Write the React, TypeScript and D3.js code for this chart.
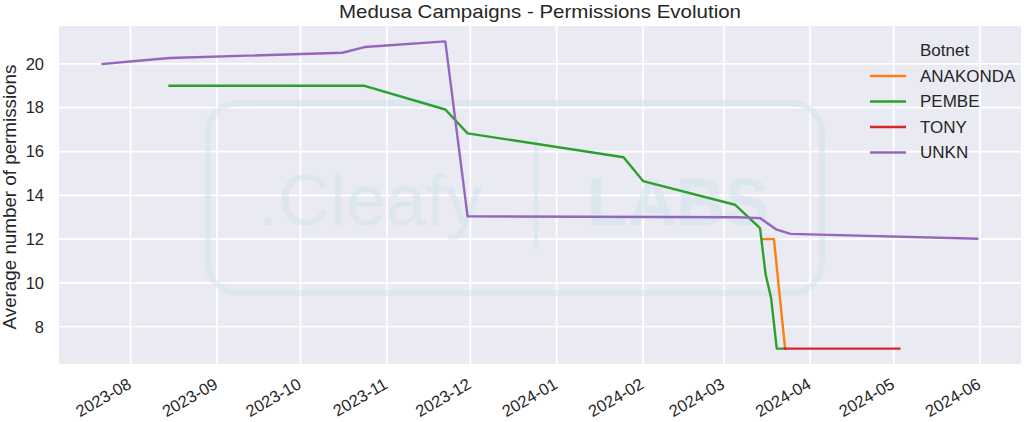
import React from "react";
import * as d3 from "d3";

const botnets = ["ANAKONDA", "PEMBE", "TONY", "UNKN"];
const botnetColors = ["#ff7f0e", "#2ca02c", "#d62728", "#9467bd"];

const anakondaDates = ["2024-03-15", "2024-03-19", "2024-03-23"];
const anakondaValues = [12.0, 12.0, 7.0];

const pembeDates = [
  "2023-08-15", "2023-10-24", "2023-11-22", "2023-11-30", "2024-01-25", "2024-02-01",
  "2024-03-05", "2024-03-14", "2024-03-16", "2024-03-18", "2024-03-20", "2024-03-23",
];
const pembeValues = [19.0, 19.0, 17.92, 16.83, 15.74, 14.65, 13.57, 12.5, 10.4, 9.3, 7.0, 7.0];

const tonyDates = ["2024-03-23", "2024-05-03"];
const tonyValues = [7.0, 7.0];

const unknDates = [
  "2023-07-22", "2023-08-15", "2023-10-16", "2023-10-24", "2023-11-22", "2023-11-30",
  "2024-03-06", "2024-03-14", "2024-03-20", "2024-03-25", "2024-05-31",
];
const unknValues = [20.0, 20.27, 20.51, 20.77, 21.03, 13.04, 13.0, 12.96, 12.43, 12.24, 12.02];

const xTickLabels = [
  "2023-08", "2023-09", "2023-10", "2023-11", "2023-12", "2024-01",
  "2024-02", "2024-03", "2024-04", "2024-05", "2024-06",
];
const yTickValues = [8, 10, 12, 14, 16, 18, 20];

const title = "Medusa Campaigns - Permissions Evolution";
const yLabel = "Average number of permissions";
const legendTitle = "Botnet";

const parseDay = d3.utcParse("%Y-%m-%d");
const parseMonth = d3.utcParse("%Y-%m");

type Pt = { date: Date; value: number };

const seriesDates = [anakondaDates, pembeDates, tonyDates, unknDates];
const seriesValues = [anakondaValues, pembeValues, tonyValues, unknValues];

const series = botnets.map((name, i) => ({
  name,
  color: botnetColors[i],
  points: seriesDates[i].map((d, j) => ({ date: parseDay(d) as Date, value: seriesValues[i][j] })) as Pt[],
}));

const W = 1024;
const H = 422;
const plot = { left: 59, right: 1021, top: 26, bottom: 364 };
const FONT = "'Liberation Sans', Arial, Helvetica, sans-serif";
const TEXT = "#262626";

export default function App() {
  const all = series.flatMap((s) => s.points);
  const [t0, t1] = d3.extent(all, (p) => p.date.getTime()) as [number, number];
  const [v0, v1] = d3.extent(all, (p) => p.value) as [number, number];
  const tp = (t1 - t0) * 0.05;
  const vp = (v1 - v0) * 0.05;

  const x = d3.scaleUtc().domain([new Date(t0 - tp), new Date(t1 + tp)]).range([plot.left, plot.right]);
  const y = d3.scaleLinear().domain([v0 - vp, v1 + vp]).range([plot.bottom, plot.top]);

  const line = d3
    .line<Pt>()
    .x((p) => x(p.date))
    .y((p) => y(p.value));

  const xTicks = xTickLabels.map((l) => ({ label: l, date: parseMonth(l) as Date }));

  return (
    <svg width={W} height={H} style={{ position: "absolute", left: 0, top: 0, background: "#ffffff" }}>
      <rect x={0} y={0} width={W} height={H} fill="#ffffff" />
      <rect
        x={plot.left}
        y={plot.top}
        width={plot.right - plot.left}
        height={plot.bottom - plot.top}
        fill="#eaeaf2"
      />
      {/* grid */}
      {xTicks.map((t) => (
        <line
          key={"gx" + t.label}
          x1={x(t.date)}
          x2={x(t.date)}
          y1={plot.top}
          y2={plot.bottom}
          stroke="#ffffff"
          strokeWidth={1.7}
        />
      ))}
      {yTickValues.map((v) => (
        <line
          key={"gy" + v}
          x1={plot.left}
          x2={plot.right}
          y1={y(v)}
          y2={y(v)}
          stroke="#ffffff"
          strokeWidth={1.7}
        />
      ))}
      {/* watermark */}
      <g opacity={0.5} fill="none" stroke="#cfe3ee">
        <rect x={208} y={103} width={614} height={190} rx={30} ry={30} strokeWidth={6} />
        <line x1={536} x2={536} y1={140} y2={247} strokeWidth={4} strokeLinecap="round" />
        <text x={258} y={225} fontFamily={FONT} fontSize={72} fill="#cfe3ee" stroke="none">
          .Cleafy
        </text>
        <text x={587} y={225} fontFamily={FONT} fontSize={67} fontWeight="bold" fill="#cfe3ee" stroke="none">
          LABS
        </text>
      </g>
      {/* lines */}
      {series.map((s) => (
        <path
          key={s.name}
          d={line(s.points) || ""}
          fill="none"
          stroke={s.color}
          strokeWidth={2.4}
          strokeLinejoin="round"
          strokeLinecap="square"
        />
      ))}
      {/* y ticks */}
      {yTickValues.map((v) => (
        <text
          key={"ty" + v}
          x={44}
          y={y(v)}
          dy="0.35em"
          textAnchor="end"
          fontFamily={FONT}
          fontSize={16.5}
          fill={TEXT}
        >
          {v}
        </text>
      ))}
      {/* x ticks */}
      {xTicks.map((t) => (
        <text
          key={"tx" + t.label}
          transform={`translate(${x(t.date) - 4},${377}) rotate(-30)`}
          dy="0.72em"
          textAnchor="end"
          fontFamily={FONT}
          fontSize={16.5}
          fill={TEXT}
        >
          {t.label}
        </text>
      ))}
      {/* y label */}
      <text
        transform={`translate(16,${197}) rotate(-90)`}
        textAnchor="middle"
        fontFamily={FONT}
        fontSize={18.8}
        fill={TEXT}
      >
        {yLabel}
      </text>
      {/* title */}
      <text
        x={(plot.left + plot.right) / 2}
        y={17.5}
        textAnchor="middle"
        fontFamily={FONT}
        fontSize={19}
        textLength={402}
        lengthAdjust="spacingAndGlyphs"
        fill={TEXT}
      >
        {title}
      </text>
      {/* legend */}
      <text x={920} y={50} dy="0.35em" fontFamily={FONT} fontSize={17} fill={TEXT}>
        {legendTitle}
      </text>
      {series.map((s, i) => {
        const ly = 76 + i * 25.5;
        return (
          <g key={"lg" + s.name}>
            <line x1={870} x2={906} y1={ly} y2={ly} stroke={s.color} strokeWidth={2.4} />
            <text x={920} y={ly} dy="0.35em" fontFamily={FONT} fontSize={17} fill={TEXT}>
              {s.name}
            </text>
          </g>
        );
      })}
    </svg>
  );
}
